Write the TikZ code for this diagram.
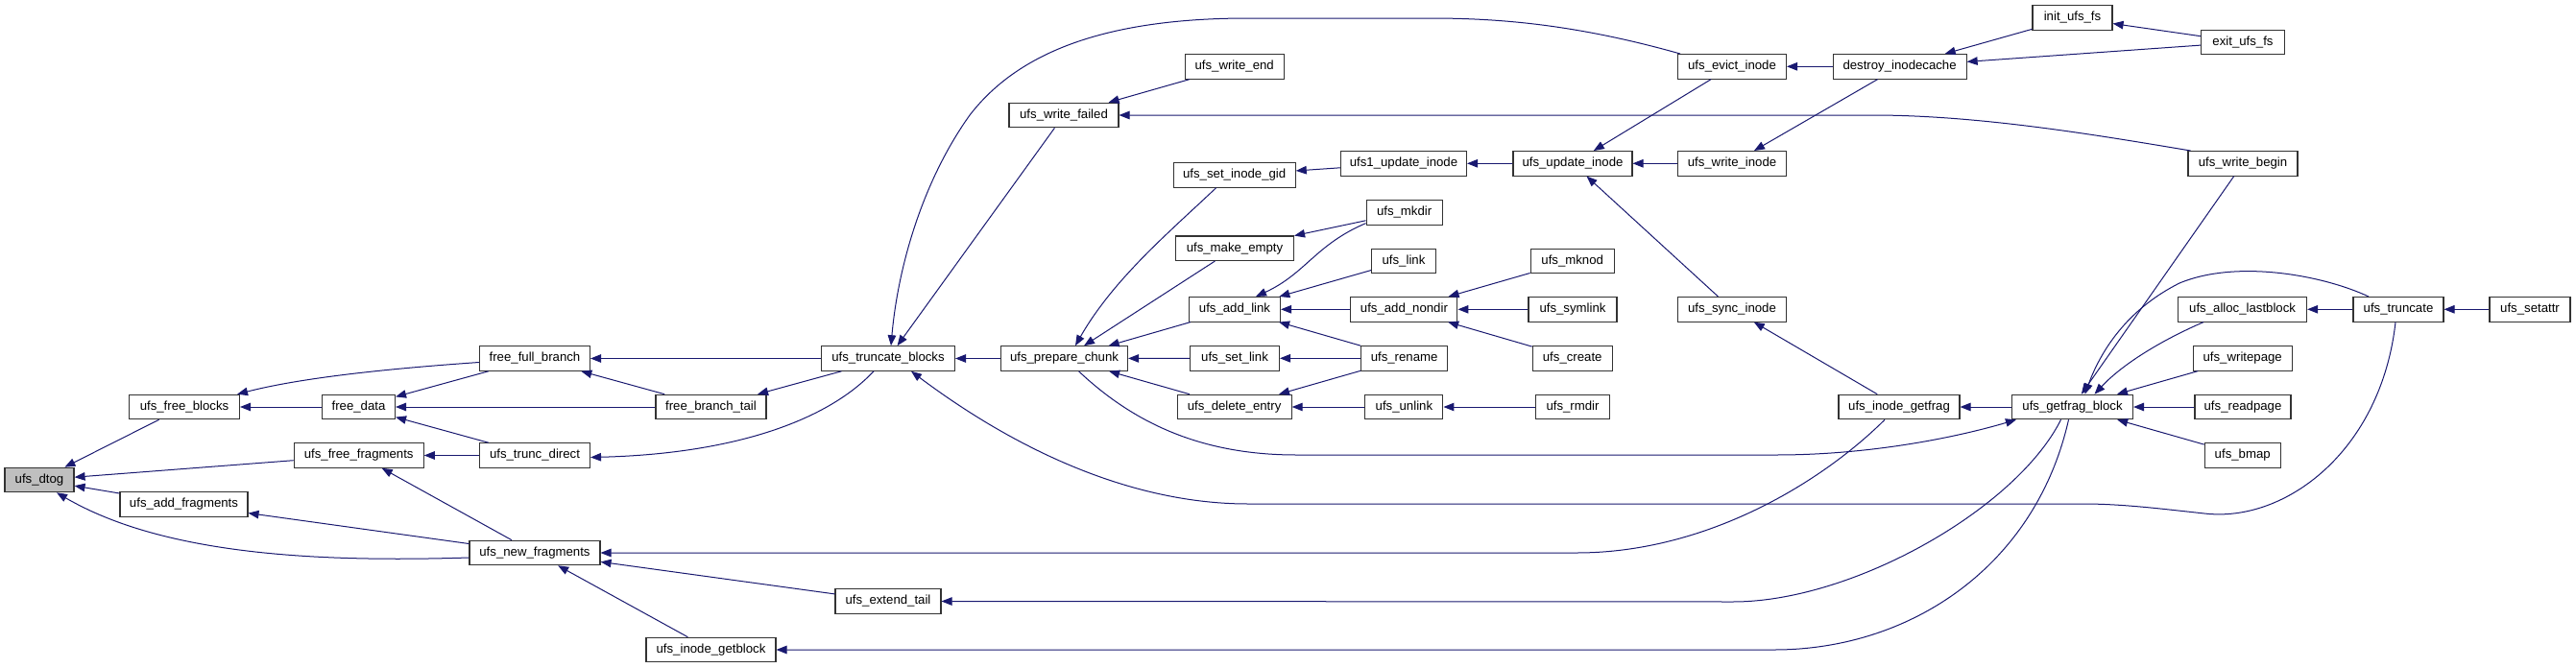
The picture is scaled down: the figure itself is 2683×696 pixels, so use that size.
\documentclass[tikz,border=0pt]{standalone}
\usepackage{fontspec}
\setmainfont{Liberation Sans}
\usetikzlibrary{arrows.meta,calc}
\definecolor{edgeblue}{RGB}{25,25,112}
\definecolor{rootgray}{RGB}{191,191,191}
\begin{document}
\begin{tikzpicture}[x=1pt,y=-1pt,
  box/.style={draw=black!80, line width=1.1pt, fill=white, minimum height=25.5pt, inner sep=0pt,
    font=\fontsize{13.2}{15}\selectfont},
  e/.style={draw=edgeblue, line width=1pt, -{Triangle[length=11pt,width=8.5pt]}}]
\fill[white] (0,0) rectangle (2683,696);
\useasboundingbox (0,0) rectangle (2683,696);
% nodes
\node[box, minimum width=72pt, fill=rootgray] (dtog) at (41,500) {ufs\_dtog};
\node[box, minimum width=115pt] (fblk) at (192,424) {ufs\_free\_blocks};
\node[box, minimum width=76pt] (fdata) at (373.5,424) {free\_data};
\node[box, minimum width=115pt] (ffb) at (557,373.5) {free\_full\_branch};
\node[box, minimum width=135pt] (ffrag) at (373.7,474.5) {ufs\_free\_fragments};
\node[box, minimum width=115pt] (tdir) at (557,474.5) {ufs\_trunc\_direct};
\node[box, minimum width=133pt] (addfr) at (191.5,525.3) {ufs\_add\_fragments};
\node[box, minimum width=136pt] (newfr) at (557,576) {ufs\_new\_fragments};
\node[box, minimum width=115pt] (fbt) at (740.5,424) {free\_branch\_tail};
\node[box, minimum width=135pt] (igblk) at (740.5,677) {ufs\_inode\_getblock};
\node[box, minimum width=139pt] (tblk) at (925,373.5) {ufs\_truncate\_blocks};
\node[box, minimum width=110pt] (exttail) at (925,626.5) {ufs\_extend\_tail};
\node[box, minimum width=132pt] (prep) at (1108.5,373.5) {ufs\_prepare\_chunk};
\node[box, minimum width=114pt] (wfail) at (1108,120) {ufs\_write\_failed};
\node[box, minimum width=103pt] (wend) at (1285.7,69.3) {ufs\_write\_end};
\node[box, minimum width=127pt] (sgid) at (1285.7,182.3) {ufs\_set\_inode\_gid};
\node[box, minimum width=123pt] (mkempty) at (1286,258.7) {ufs\_make\_empty};
\node[box, minimum width=95pt] (addlink) at (1286,322.3) {ufs\_add\_link};
\node[box, minimum width=93pt] (setlink) at (1286,373.3) {ufs\_set\_link};
\node[box, minimum width=119pt] (delent) at (1285.6,424) {ufs\_delete\_entry};
\node[box, minimum width=131pt] (upd1) at (1462,170.3) {ufs1\_update\_inode};
\node[box, minimum width=79pt] (mkdir) at (1462.6,221.3) {ufs\_mkdir};
\node[box, minimum width=67pt] (link) at (1462,271.8) {ufs\_link};
\node[box, minimum width=111pt] (addnd) at (1462.4,322.3) {ufs\_add\_nondir};
\node[box, minimum width=90pt] (rename) at (1462.6,373.3) {ufs\_rename};
\node[box, minimum width=81pt] (unlink) at (1462.4,424) {ufs\_unlink};
\node[box, minimum width=124pt] (updino) at (1638,170.3) {ufs\_update\_inode};
\node[box, minimum width=87pt] (mknod) at (1637.7,271.8) {ufs\_mknod};
\node[box, minimum width=92pt] (symlink) at (1638,322.3) {ufs\_symlink};
\node[box, minimum width=83pt] (create) at (1637.7,373.3) {ufs\_create};
\node[box, minimum width=77pt] (rmdir) at (1638,424) {ufs\_rmdir};
\node[box, minimum width=113pt] (evict) at (1804,69.3) {ufs\_evict\_inode};
\node[box, minimum width=113pt] (wino) at (1804,170.3) {ufs\_write\_inode};
\node[box, minimum width=113pt] (syncino) at (1804,322.3) {ufs\_sync\_inode};
\node[box, minimum width=126pt] (igfrag) at (1978,424) {ufs\_inode\_getfrag};
\node[box, minimum width=139pt] (destroy) at (1978.6,69.3) {destroy\_inodecache};
\node[box, minimum width=126pt] (gfb) at (2158.5,424) {ufs\_getfrag\_block};
\node[box, minimum width=83pt] (initfs) at (2158.5,18.5) {init\_ufs\_fs};
\node[box, minimum width=86.5pt] (exitfs) at (2336,44) {exit\_ufs\_fs};
\node[box, minimum width=114pt] (wbegin) at (2336,170.3) {ufs\_write\_begin};
\node[box, minimum width=134pt] (alloclb) at (2335.6,322.3) {ufs\_alloc\_lastblock};
\node[box, minimum width=103pt] (wpage) at (2335.7,373.3) {ufs\_writepage};
\node[box, minimum width=100pt] (rpage) at (2336,424) {ufs\_readpage};
\node[box, minimum width=79pt] (bmap) at (2335.7,474.5) {ufs\_bmap};
\node[box, minimum width=94pt] (trunc) at (2498,322.3) {ufs\_truncate};
\node[box, minimum width=84pt] (setattr) at (2635,322.3) {ufs\_setattr};
% edges
\draw[e] (fblk) -- (dtog);
\draw[e] (ffrag) -- (dtog);
\draw[e] (addfr) -- (dtog);
\draw[e] ($(newfr.west)+(0,5)$) .. controls (330,586) and (170,578) .. ($(dtog.south)+(18,0)$);
\draw[e] ($(ffb.west)+(0,4)$) .. controls (420,383) and (320,392) .. ($(fblk.north east)+(-3,0)$);
\draw[e] (fdata) -- (fblk);
\draw[e] (ffb) -- (fdata);
\draw[e] (fbt) -- (fdata);
\draw[e] (tdir) -- (fdata);
\draw[e] (tdir) -- (ffrag);
\draw[e] (newfr) -- (ffrag);
\draw[e] (newfr) -- (addfr);
\draw[e] (tblk) -- (ffb);
\draw[e] (fbt) -- (ffb);
\draw[e] (tblk) -- (fbt);
\draw[e] ($(tblk.south)+(-15,0)$) .. controls (860,440) and (760,473) .. ($(tdir.east)+(0,2)$);
\draw[e] (prep) -- (tblk);
\draw[e] ($(evict.north west)+(3,0)$) .. controls (1640,25) and (1560,19) .. (1489,19) -- (1300,19)
  .. controls (1150,19) and (1060,55) .. (1010,120) .. controls (960,190) and (935,280) .. ($(tblk.north)+(3,0)$);
\draw[e] (wfail) -- (tblk);
\draw[e] ($(trunc.south)+(-3,0)$) .. controls (2480,470) and (2380,545) .. (2296,535)
  .. controls (2250,530) and (2210,525) .. (2169.7,525) -- (1300,525)
  .. controls (1150,525) and (1020,440) .. ($(tblk.south)+(24,0)$);
\draw[e] (wend) -- (wfail);
\draw[e] ($(wbegin.north west)+(3,0)$) .. controls (2180,140) and (2060,120) .. (1950,120) -- (wfail.east);
\draw[e] (evict) -- (updino);
\draw[e] (destroy) -- (evict);
\draw[e] (destroy) -- (wino);
\draw[e] (wino) -- (updino);
\draw[e] (updino) -- (upd1);
\draw[e] (upd1) -- (sgid);
\draw[e] (syncino) -- (updino);
\draw[e] (igfrag) -- (syncino);
\draw[e] (initfs) -- (destroy);
\draw[e] (exitfs) -- (initfs);
\draw[e] (exitfs) -- (destroy);
\draw[e] (mkdir) -- (mkempty);
\draw[e] ($(mkdir.south west)+(0,-2)$) .. controls (1370,255) and (1360,285) .. ($(addlink.north)+(22,0)$);
\draw[e] (link) -- (addlink);
\draw[e] (addnd) -- (addlink);
\draw[e] (rename) -- (addlink);
\draw[e] (rename) -- (setlink);
\draw[e] (rename) -- (delent);
\draw[e] (unlink) -- (delent);
\draw[e] (rmdir) -- (unlink);
\draw[e] (mknod) -- (addnd);
\draw[e] (symlink) -- (addnd);
\draw[e] (create) -- (addnd);
\draw[e] ($(sgid.south)+(-19,0)$) .. controls (1220,240) and (1160,290) .. ($(prep.north)+(11.5,0)$);
\draw[e] (mkempty) -- (prep);
\draw[e] (addlink) -- (prep);
\draw[e] (setlink) -- (prep);
\draw[e] (delent) -- (prep);
\draw[e] ($(prep.south)+(15,0)$) .. controls (1180,440) and (1250,474) .. (1350,474) -- (1850,474)
  .. controls (1950,474) and (2040,455) .. ($(gfb.south west)+(5,0)$);
\draw[e] ($(trunc.north)+(-31,0)$) .. controls (2420,287) and (2330,270) .. (2270,295)
  .. controls (2220,320) and (2190,360) .. ($(gfb.north)+(13,0)$);
\draw[e] (wbegin) -- (gfb);
\draw[e] ($(alloclb.south west)+(27,0)$) .. controls (2250,355) and (2210,380) .. ($(gfb.north)+(23,0)$);
\draw[e] (wpage) -- (gfb);
\draw[e] (rpage) -- (gfb);
\draw[e] (bmap) -- (gfb);
\draw[e] (gfb) -- (igfrag);
\draw[e] ($(igfrag.south)+(-15,0)$) .. controls (1900,500) and (1780,576) .. (1642,576) -- (newfr.east);
\draw[e] ($(gfb.south)+(-12,0)$) .. controls (2100,530) and (1930,627) .. (1805,627) -- (exttail.east);
\draw[e] ($(gfb.south)+(-4,0)$) .. controls (2120,590) and (1990,677) .. (1848,677) -- (igblk.east);
\draw[e] (exttail) -- (newfr);
\draw[e] (igblk) -- (newfr);
\draw[e] (trunc) -- (alloclb);
\draw[e] (setattr) -- (trunc);
\end{tikzpicture}
\end{document}
